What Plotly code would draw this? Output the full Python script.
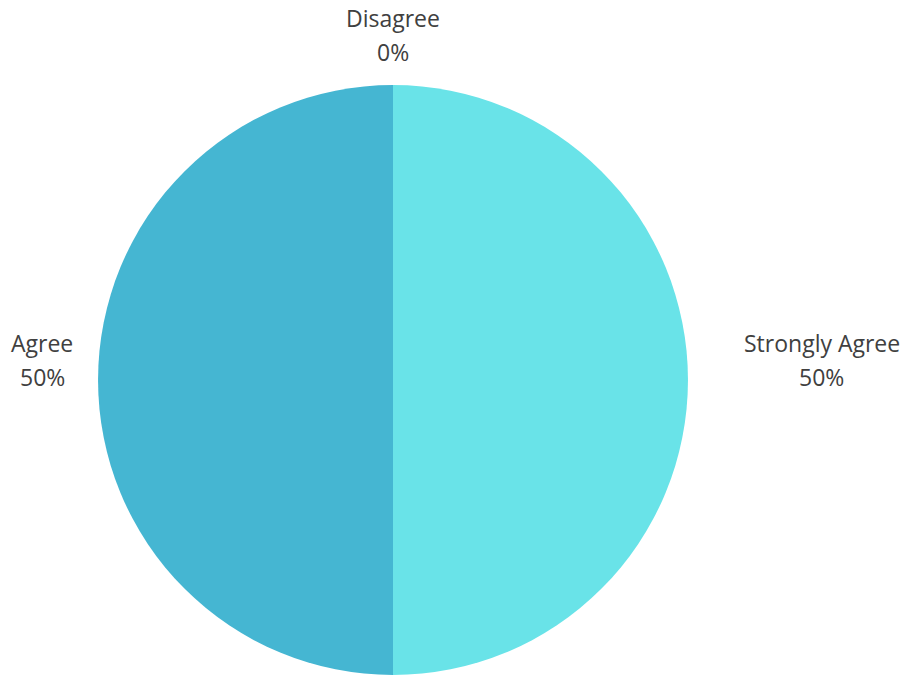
import plotly.graph_objects as go

labels = ["Strongly Agree", "Agree", "Disagree"]
values = [50, 50, 0]
colors = ["#69e3e8", "#45b6d2", "#2a8fb0"]

# label placement (paper coords) for name line and percent line
label_x = [0.897, 0.046, 0.429]
label_y_name = [0.493, 0.493, 0.973]
label_y_pct = [0.443, 0.443, 0.923]

total = sum(values)

fig = go.Figure(go.Pie(
    labels=labels,
    values=values,
    sort=False,
    direction="clockwise",
    rotation=0,
    marker=dict(colors=colors, line=dict(width=0)),
    textinfo="none",
    hoverinfo="label+percent",
    showlegend=False,
    domain=dict(x=[0.107, 0.7511], y=[0.003, 0.8744]),
))

font = dict(family="Open Sans, Lato, sans-serif", size=23, color="#404040")
for lab, v, x, yn, yp in zip(labels, values, label_x, label_y_name, label_y_pct):
    fig.add_annotation(x=x, y=yn, xref="paper", yref="paper", text=lab,
                       showarrow=False, font=font, xanchor="center", yanchor="middle")
    fig.add_annotation(x=x, y=yp, xref="paper", yref="paper",
                       text=f"{round(100 * v / total)}%",
                       showarrow=False, font=font, xanchor="center", yanchor="middle")

fig.update_layout(
    width=916, height=677,
    margin=dict(l=0, r=0, t=0, b=0),
    paper_bgcolor="white",
    plot_bgcolor="white",
)

fig.write_html("out.html", config={"displayModeBar": False},
               post_script="document.body.style.margin='0';")
